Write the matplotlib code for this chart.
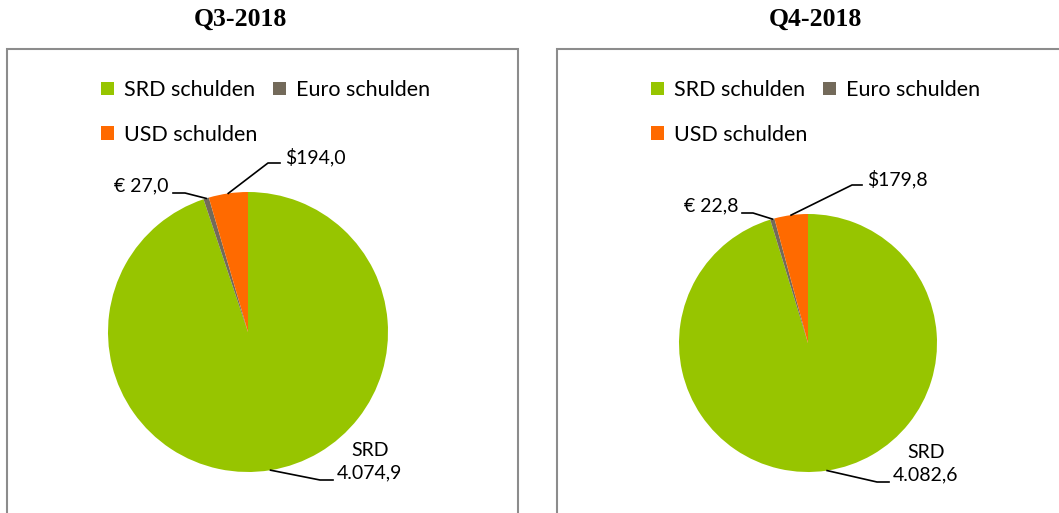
import numpy as np
import matplotlib.pyplot as plt
from matplotlib.patches import Rectangle
from matplotlib.lines import Line2D

W, H = 1059, 513

# data
quarters = ['Q3-2018', 'Q4-2018']
series = ['SRD schulden', 'Euro schulden', 'USD schulden']
srd_debt = [4074.9, 4082.6]
euro_debt = [27.0, 22.8]
usd_debt = [194.0, 179.8]
colors = ['#97C500', '#736A5A', '#FF6A00']

LABEL_FONT = ['Lato', 'DejaVu Sans']


def fx(x):
    return x / W


def fy(y):
    return 1 - y / H


def line_px(fig, pts):
    xs = [fx(p[0]) for p in pts]
    ys = [fy(p[1]) for p in pts]
    fig.add_artist(Line2D(xs, ys, transform=fig.transFigure, color='black', lw=1.2))


def nl_number(v):
    # 4074.9 -> 4.074,9
    return f"{v:,.1f}".replace(',', 'X').replace('.', ',').replace('X', '.')


fig = plt.figure(figsize=(W / 100, H / 100), dpi=100)

# panel layout in pixels
panels = [
    dict(box=(7, 49, 511, 480), title_x=240, cx=248, cy=332, r=140,
         legend=(101, 80),
         euro_elbow=(185, 193), euro_end=(173, 193),
         usd_elbow=(280, 163), usd_end=(268, 163),
         srd_elbow=(320, 480), srd_end=(333, 480)),
    dict(box=(557, 49, 520, 480), title_x=815, cx=808, cy=343, r=129,
         legend=(651, 80),
         euro_elbow=(753, 213), euro_end=(742, 213),
         usd_elbow=(852, 185), usd_end=(862, 185),
         srd_elbow=(877, 482), srd_end=(889, 482)),
]

for i, p in enumerate(panels):
    bx, by, bw, bh = p['box']
    fig.add_artist(Rectangle((fx(bx), fy(by + bh)), bw / W, bh / H, transform=fig.transFigure,
                             facecolor='none', edgecolor='#8C8C8C', lw=1.5))
    fig.text(fx(p['title_x']), fy(19), quarters[i], ha='center', va='center',
             family='Liberation Serif', fontweight='bold', fontsize=18.5)

    cx, cy, r = p['cx'], p['cy'], p['r']
    ax = fig.add_axes([fx(cx - r), fy(cy + r), 2 * r / W, 2 * r / H])
    vals = [srd_debt[i], euro_debt[i], usd_debt[i]]
    wedges, _ = ax.pie(vals, colors=colors, startangle=90, counterclock=False,
                       wedgeprops=dict(linewidth=0))
    ax.set_xlim(-1, 1)
    ax.set_ylim(-1, 1)
    ax.set_aspect('equal')
    ax.axis('off')

    # anchors at the middle of each slice
    fr = np.array(vals) / sum(vals)
    ends = 90 - 360 * np.cumsum(fr)
    starts = ends + 360 * fr
    mids = np.deg2rad((starts + ends) / 2)
    anchors = [(cx + r * np.cos(a), cy - r * np.sin(a)) for a in mids]

    # SRD label
    line_px(fig, [anchors[0], p['srd_elbow'], p['srd_end']])
    fig.text(fx(p['srd_end'][0] + 4), fy(p['srd_end'][1] + 1), 'SRD\n' + nl_number(vals[0]),
             ha='left', va='bottom', multialignment='center', family=LABEL_FONT, fontsize=14,
             linespacing=1.35)
    # Euro label
    line_px(fig, [anchors[1], p['euro_elbow'], p['euro_end']])
    fig.text(fx(p['euro_end'][0] - 4), fy(p['euro_end'][1] - 7), f"€ {vals[1]:.1f}".replace('.', ','),
             ha='right', va='center', family=LABEL_FONT, fontsize=14)
    # USD label
    usd_x = max(p['usd_elbow'][0], p['usd_end'][0])
    line_px(fig, [anchors[2], (min(p['usd_elbow'][0], p['usd_end'][0]), p['usd_end'][1]), (usd_x, p['usd_end'][1])])
    fig.text(fx(usd_x + 5), fy(p['usd_end'][1] - 6), f"${vals[2]:.1f}".replace('.', ','),
             ha='left', va='center', family=LABEL_FONT, fontsize=14)

    # legend: row-major order for two columns
    order = [0, 2, 1]
    lx, ly = p['legend']
    fig.legend([wedges[k] for k in order], [series[k] for k in order], ncol=2,
               loc='upper left', bbox_to_anchor=(fx(lx), fy(ly)), frameon=False,
               prop=dict(family=LABEL_FONT, size=15.5), handlelength=0.6, handleheight=0.6,
               handletextpad=0.45, columnspacing=0.75, labelspacing=1.15, borderpad=0, borderaxespad=0)

fig.savefig('out.png', dpi=100, facecolor='white')
